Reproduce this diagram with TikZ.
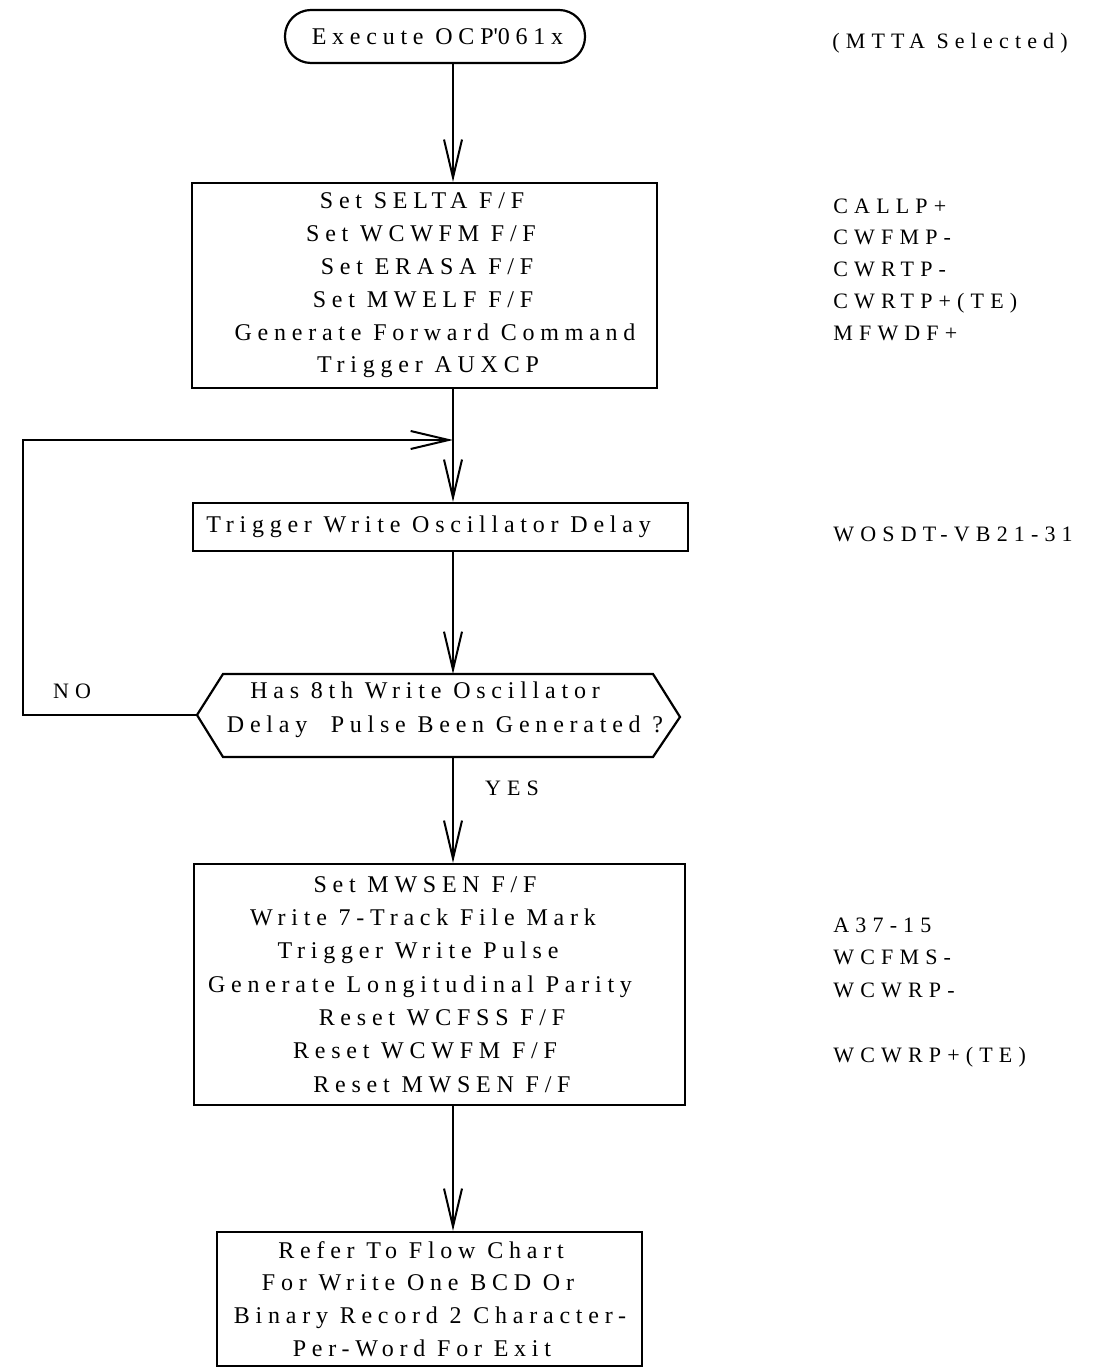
\documentclass[tikz,border=0pt]{standalone}
\usepackage{fontspec}
\setmainfont{Liberation Serif}[LetterSpace=24]
\newfontfamily\notefont{Liberation Serif}[LetterSpace=28]
\usetikzlibrary{arrows.meta,calc}
\newcommand\fs{\fontsize{12}{16.4}\selectfont}
\newcommand\nfs{\notefont\fontsize{11}{16.4}\selectfont}
\newcommand\shl[2]{\makebox[0pt]{\hspace*{#1pt}#2}}
\tikzset{
  every node/.style={font=\fs, inner sep=0pt},
  box/.style={draw, line width=1.1pt, align=center},
  conn/.style={line width=1pt, -{Straight Barb[length=19pt,width=9pt,line width=1pt]}},
  note/.style={anchor=base west, font=\nfs},
}
\begin{document}
\begin{tikzpicture}[x=0.5pt,y=-0.5pt]
\useasboundingbox (0,0) rectangle (1108,1368);
\coordinate (ax) at (453,0);

\node[box, rounded corners=13pt, minimum width=150pt, minimum height=26.5pt] (start) at (435,36.5)
  {\shl{2.5}{Execute OCP\textquotesingle 061x}};

\node[box, minimum width=232.5pt, minimum height=102.5pt] (box1) at (424.5,285.5)
  {\shl{-2.5}{Set SELTA F/F}\\ \shl{-3.5}{Set WCWFM F/F}\\ \shl{2.5}{Set ERASA F/F}\\
   \shl{-1.5}{Set MWELF F/F}\\ \shl{10.5}{Generate Forward Command}\\ \shl{3.5}{Trigger AUXCP}};

\node[box, minimum width=247.5pt, minimum height=24pt] (box2) at (440.5,527)
  {\shl{-12}{Trigger Write Oscillator Delay}};

\coordinate (hl) at (197,715);
\coordinate (htl) at (223,674);
\coordinate (htr) at (653,674);
\coordinate (hr) at (680,717);
\coordinate (hbr) at (653,757);
\coordinate (hbl) at (223,757);
\draw[line width=1.1pt] (hl) -- (htl) -- (htr) -- (hr) -- (hbr) -- (hbl) -- cycle;
\node[align=center, font=\fontsize{12}{17}\selectfont] (dec) at (440,710)
  {\shl{-15}{Has 8th Write Oscillator}\\ \shl{5}{Delay\ \ Pulse Been Generated ?}};

\node[box, minimum width=245.5pt, minimum height=120.5pt,
      font=\fontsize{12}{16.65}\selectfont] (box3) at (439.5,984.5)
  {\shl{-14.5}{Set MWSEN F/F}\\ \shl{-16.5}{Write 7-Track File Mark}\\ \shl{-21.5}{Trigger Write Pulse}\\
   \shl{-19.5}{Generate Longitudinal Parity}\\ \shl{2.5}{Reset WCFSS F/F}\\ \shl{-14.5}{Reset WCWFM F/F}\\
   \shl{2.5}{Reset MWSEN F/F}};

\node[box, minimum width=212.5pt, minimum height=67pt] (box4) at (429.5,1299)
  {\shl{-8.5}{Refer To Flow Chart}\\ \shl{-11.5}{For Write One BCD Or}\\
   \shl{0.5}{Binary Record 2 Character-}\\ \shl{-7.5}{Per-Word For Exit}};

% connectors
\draw[conn] (start.south -| ax) -- (box1.north -| ax);
\draw[conn] (box1.south -| ax) -- (box2.north -| ax);
\draw[conn] (box2.south -| ax) -- (htl -| ax);
\coordinate (loopL) at (23,715);
\coordinate (loopT) at (23,440);
\coordinate (join) at (453,440);
\draw[conn] (hl) -- (loopL) -- (loopT) -- (join);
\draw[conn] (hbl -| ax) -- (box3.north -| ax);
\draw[conn] (box3.south -| ax) -- (box4.north -| ax);

\node[font=\nfs] (no) at (72,691) {NO};
\node[font=\nfs] (yes) at (512,788) {YES};

% annotations
\node[note] (n0) at (832,49) {(MTTA Selected)};
\node[note] (n1) at (833,214) {CALLP+};
\node[note] (n2) at (833,245) {CWFMP-};
\node[note] (n3) at (833,277) {CWRTP-};
\node[note] (n4) at (833,309) {CWRTP+(TE)};
\node[note] (n5) at (833,341) {MFWDF+};
\node[note] (n6) at (833,541) {WOSDT-VB21-31};
\node[note] (n7) at (833,932) {A37-15};
\node[note] (n8) at (833,964) {WCFMS-};
\node[note] (n9) at (833,997) {WCWRP-};
\node[note] (n10) at (833,1062) {WCWRP+(TE)};
\end{tikzpicture}
\end{document}
